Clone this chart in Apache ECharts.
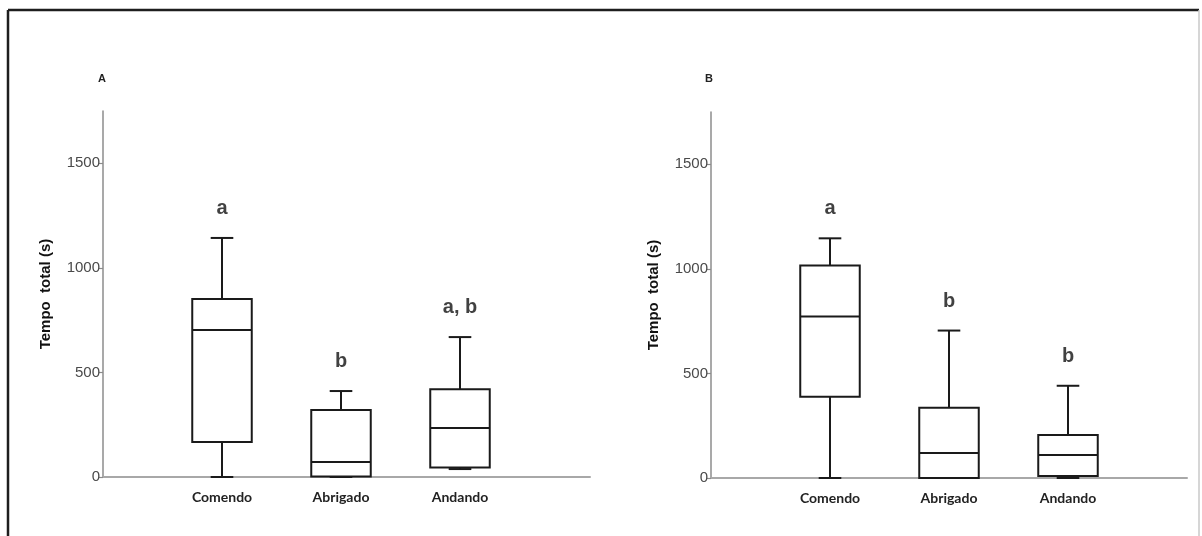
<!DOCTYPE html>
<html>
<head>
<meta charset="utf-8">
<script src="https://cdn.jsdelivr.net/npm/echarts@6/dist/echarts.min.js"></script>
<style>
  html, body { margin: 0; padding: 0; background: #fff; }
  #chart { width: 1202px; height: 536px; }
</style>
</head>
<body>
<div id="chart"></div>
<script>
// Behaviour categories shown on both panels
const categories = ['Comendo', 'Abrigado', 'Andando'];

// Box summaries per category: [min, Q1, median, Q3, max] in seconds
const boxA = [
  [0, 167, 703, 851, 1143],
  [0, 2, 72, 320, 411],
  [38, 46, 234, 420, 669]
];
const boxB = [
  [0, 388, 772, 1016, 1146],
  [0, 0, 120, 336, 705],
  [0, 10, 110, 206, 441]
];

// Significance letters above each box
const lettersA = ['a', 'b', 'a, b'];
const lettersB = ['a', 'b', 'b'];

// Y axis ticks and extent
const yTicks = [0, 500, 1000, 1500];
const yMax = 1750;

const panelLabels = ['A', 'B'];
const yName = 'Tempo  total (s)';

// Padded category list so the boxes sit one step in from the y axis
const xCats = [''].concat(categories, [' ']);

const lineColor = '#1a1a1a';
const axisGray = '#8c8c8c';
const sansFont = '"Liberation Sans", Arial, sans-serif';

function boxData(rows) {
  return rows.map((r, i) => [i + 1].concat(r));
}
function maxData(rows) {
  return rows.map((r, i) => [i + 1, r[4]]);
}

function renderBox(params, api) {
  const x = api.value(0);
  const pMin = api.coord([x, api.value(1)]);
  const pQ1 = api.coord([x, api.value(2)]);
  const pMed = api.coord([x, api.value(3)]);
  const pQ3 = api.coord([x, api.value(4)]);
  const pMax = api.coord([x, api.value(5)]);
  const step = api.size([1, 0])[0];
  const bw = step * 0.5;
  const cw = step * 0.19;
  const cx = pMed[0];
  const st = { stroke: lineColor, lineWidth: 2, fill: null };
  const ln = (x1, y1, x2, y2) => ({ type: 'line', shape: { x1, y1, x2, y2 }, style: st });
  return {
    type: 'group',
    children: [
      ln(cx, pQ3[1], cx, pMax[1]),
      ln(cx - cw / 2, pMax[1], cx + cw / 2, pMax[1]),
      ln(cx, pQ1[1], cx, pMin[1]),
      ln(cx - cw / 2, pMin[1], cx + cw / 2, pMin[1]),
      { type: 'rect', shape: { x: cx - bw / 2, y: pQ3[1], width: bw, height: pQ1[1] - pQ3[1] }, style: { stroke: lineColor, lineWidth: 2, fill: '#fff' } },
      ln(cx - bw / 2, pMed[1], cx + bw / 2, pMed[1])
    ]
  };
}

function yAxisFor(gridIndex) {
  return {
    type: 'value',
    gridIndex,
    min: 0,
    max: yMax,
    interval: 500,
    name: yName,
    nameLocation: 'middle',
    nameGap: 50,
    nameTextStyle: { fontFamily: sansFont, fontWeight: 'bold', fontSize: 15, color: '#111' },
    axisLine: { show: true, lineStyle: { color: axisGray, width: 1.5 } },
    axisTick: { show: true, length: 4, lineStyle: { color: axisGray, width: 1.2 }, customValues: yTicks },
    axisLabel: { color: '#4a4a4a', fontFamily: sansFont, fontSize: 15, margin: 3, customValues: yTicks, formatter: v => String(v) },
    splitLine: { show: false }
  };
}

function catAxisFor(gridIndex, showLine) {
  return {
    type: 'category',
    gridIndex,
    data: xCats,
    boundaryGap: false,
    axisLine: { show: showLine, onZero: false, lineStyle: { color: '#a8a8a8', width: 2 } },
    axisTick: { show: false },
    axisLabel: { color: '#222', fontFamily: 'Lato, "Open Sans", sans-serif', fontWeight: 'bold', fontSize: 14, margin: 13 },
    splitLine: { show: false }
  };
}

function letterSeries(xi, yi, rows, letters) {
  return {
    type: 'scatter',
    xAxisIndex: xi,
    yAxisIndex: yi,
    data: maxData(rows),
    symbolSize: 1,
    itemStyle: { color: 'rgba(0,0,0,0)' },
    silent: true,
    label: {
      show: true,
      position: 'top',
      distance: 19,
      formatter: p => letters[p.dataIndex],
      fontFamily: sansFont,
      fontWeight: 'bold',
      fontSize: 20,
      color: '#111'
    },
    z: 5
  };
}

const chart = echarts.init(document.getElementById('chart'), null, { renderer: 'canvas' });

chart.setOption({
  animation: false,
  backgroundColor: '#fff',
  title: [
    { text: panelLabels[0], left: 98, top: 73, padding: 0, textStyle: { fontFamily: sansFont, fontSize: 11, fontWeight: 'bold', color: '#222' } },
    { text: panelLabels[1], left: 705, top: 73, padding: 0, textStyle: { fontFamily: sansFont, fontSize: 11, fontWeight: 'bold', color: '#222' } }
  ],
  grid: [
    { left: 103, top: 111, width: 476, height: 366, outerBoundsMode: 'none' },
    { left: 103, top: 111, width: 487, height: 366, outerBoundsMode: 'none' },
    { left: 711, top: 112, width: 476, height: 366, outerBoundsMode: 'none' }
  ],
  xAxis: [
    catAxisFor(0, false),
    // baseline of panel A, running a little past the last category
    { type: 'value', gridIndex: 1, min: 0, max: 1, axisLine: { show: true, onZero: false, lineStyle: { color: '#a8a8a8', width: 2 } }, axisTick: { show: false }, axisLabel: { show: false }, splitLine: { show: false } },
    catAxisFor(2, true)
  ],
  yAxis: [
    yAxisFor(0),
    { type: 'value', gridIndex: 1, min: 0, max: 1, show: false },
    yAxisFor(2)
  ],
  series: [
    { type: 'custom', xAxisIndex: 0, yAxisIndex: 0, renderItem: renderBox, data: boxData(boxA), encode: { x: 0, y: [1, 2, 3, 4, 5] }, z: 3 },
    letterSeries(0, 0, boxA, lettersA),
    { type: 'custom', xAxisIndex: 2, yAxisIndex: 2, renderItem: renderBox, data: boxData(boxB), encode: { x: 0, y: [1, 2, 3, 4, 5] }, z: 3 },
    letterSeries(2, 2, boxB, lettersB)
  ],
  graphic: [
    // page frame: dark top and left edges, faint right edge
    { type: 'line', silent: true, shape: { x1: 8, y1: 10, x2: 1199, y2: 10 }, style: { stroke: '#1e1e1e', lineWidth: 2.5 } },
    { type: 'line', silent: true, shape: { x1: 8, y1: 10, x2: 8, y2: 536 }, style: { stroke: '#1e1e1e', lineWidth: 2.5 } },
    { type: 'line', silent: true, shape: { x1: 1199, y1: 10, x2: 1199, y2: 536 }, style: { stroke: '#c8c8c8', lineWidth: 1.5 } }
  ]
});
</script>
</body>
</html>
